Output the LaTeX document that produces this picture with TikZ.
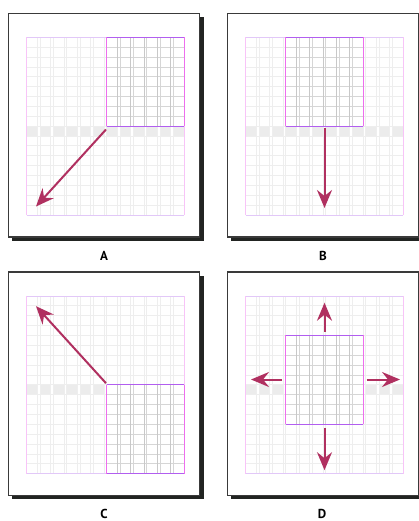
\documentclass[tikz,border=0pt]{standalone}
\usepackage{fontspec}
\setmainfont{PT Sans}
\usetikzlibrary{arrows.meta}
\definecolor{arrowc}{RGB}{176,48,96}
\definecolor{framec}{RGB}{58,58,58}
\definecolor{shadowc}{RGB}{34,36,34}
\definecolor{gridl}{RGB}{238,238,238}
\definecolor{bandc}{RGB}{236,236,236}
\definecolor{gridd}{RGB}{200,200,200}
\definecolor{gridh}{RGB}{214,214,214}
\definecolor{edgeh}{RGB}{226,200,248}
\definecolor{edgev}{RGB}{248,196,248}
\definecolor{selh}{RGB}{178,94,240}
\definecolor{selv}{RGB}{238,110,238}
\tikzset{
  mv/.style={draw=arrowc, line width=2pt, -{Stealth[length=18pt,width=15pt,inset=6pt]}},
  lbl/.style={font=\bfseries\fontsize{13}{15}\selectfont, text=black, inner sep=0pt},
  frm/.style={draw=framec, line width=1.2pt, fill=white},
  shd/.style={fill=shadowc, draw=none},
}
% #1 sel col start, #2 sel row start
\newcommand\gridpanel[2]{%
  \fill[shd] (12.2,16.8) rectangle (203.5,240.7);
  \draw[frm] (8.7,13.3) rectangle (199.5,237);
  % band cells (row 9)
  \foreach \i in {0,...,11}{
    \fill[bandc] ({26.7+13.33*\i},{37.3+9.87*9}) rectangle ({26.7+13.33*\i+10.67},{37.3+9.87*10});
  }
  \foreach \j in {1,...,17}{
    \draw[gridl, line width=0.8pt] (26.7,{37.3+9.87*\j}) -- (184.3,{37.3+9.87*\j});
  }
  \foreach \i in {0,...,10}{
    \draw[gridl, line width=0.8pt] ({26.7+13.33*\i+10.67},37.3) -- ({26.7+13.33*\i+10.67},215);
    \draw[gridl, line width=0.8pt] ({26.7+13.33*(\i+1)},37.3) -- ({26.7+13.33*(\i+1)},215);
  }
  \draw[edgeh, line width=0.8pt] (26.7,37.3) -- (184.3,37.3) (26.7,215) -- (184.3,215);
  \draw[edgev, line width=0.8pt] (26.7,37.3) -- (26.7,215) (184.3,37.3) -- (184.3,215);
  % selection
  \pgfmathsetmacro\sxa{26.7+13.33*#1}
  \pgfmathsetmacro\sxb{26.7+13.33*(#1+5)+10.67}
  \pgfmathsetmacro\sya{37.3+9.87*#2}
  \pgfmathsetmacro\syb{37.3+9.87*(#2+9)}
  \fill[white] (\sxa,\sya) rectangle (\sxb,\syb);
  \begin{scope}
    \clip (\sxa,\sya) rectangle (\sxb,\syb);
    \foreach \j in {1,...,17}{
      \draw[gridh, line width=0.8pt] (26.7,{37.3+9.87*\j}) -- (184.3,{37.3+9.87*\j});
    }
    \foreach \i in {0,...,10}{
      \draw[gridd, line width=0.8pt] ({26.7+13.33*\i+10.67},37.3) -- ({26.7+13.33*\i+10.67},215);
      \draw[gridh, line width=0.8pt] ({26.7+13.33*(\i+1)},37.3) -- ({26.7+13.33*(\i+1)},215);
    }
  \end{scope}
  \draw[selh, line width=1pt] (\sxa,\sya) -- (\sxb,\sya) (\sxa,\syb) -- (\sxb,\syb);
  \draw[selv, line width=1pt] (\sxa,\sya) -- (\sxa,\syb) (\sxb,\sya) -- (\sxb,\syb);
}
\begin{document}
\begin{tikzpicture}[x=1pt,y=-1pt]
\useasboundingbox (0,0) rectangle (419,521);
\fill[white] (0,0) rectangle (419,521);
% Panel A
\begin{scope}
  \gridpanel{6}{0}
  \coordinate (a1) at (106,129.5);
  \coordinate (a2) at (36,206.5);
  \draw[mv] (a1) -- (a2);
\end{scope}
\node[lbl] (la) at (104,255.5) {A};
% Panel B
\begin{scope}[shift={(219,0)}]
  \gridpanel{3}{0}
  \coordinate (b1) at (105.5,128.5);
  \coordinate (b2) at (105.5,208);
  \draw[mv] (b1) -- (b2);
\end{scope}
\node[lbl] (lb) at (323,255.5) {B};
% Panel C
\begin{scope}[shift={(0,258.7)}]
  \gridpanel{6}{9}
  \coordinate (c1) at (106,124.5);
  \coordinate (c2) at (36,47.5);
  \draw[mv] (c1) -- (c2);
\end{scope}
\node[lbl] (lc) at (104,514) {C};
% Panel D
\begin{scope}[shift={(219,258.7)}]
  \gridpanel{3}{4}
  \coordinate (du1) at (105.5,73);
  \coordinate (du2) at (105.5,44);
  \coordinate (dd1) at (105.5,169.5);
  \coordinate (dd2) at (105.5,211.5);
  \coordinate (dl1) at (63,120.8);
  \coordinate (dl2) at (32,120.8);
  \coordinate (dr1) at (147.5,120.8);
  \coordinate (dr2) at (181,120.8);
  \draw[mv] (du1) -- (du2);
  \draw[mv] (dd1) -- (dd2);
  \draw[mv] (dl1) -- (dl2);
  \draw[mv] (dr1) -- (dr2);
\end{scope}
\node[lbl] (ld) at (322,514) {D};
\end{tikzpicture}
\end{document}
